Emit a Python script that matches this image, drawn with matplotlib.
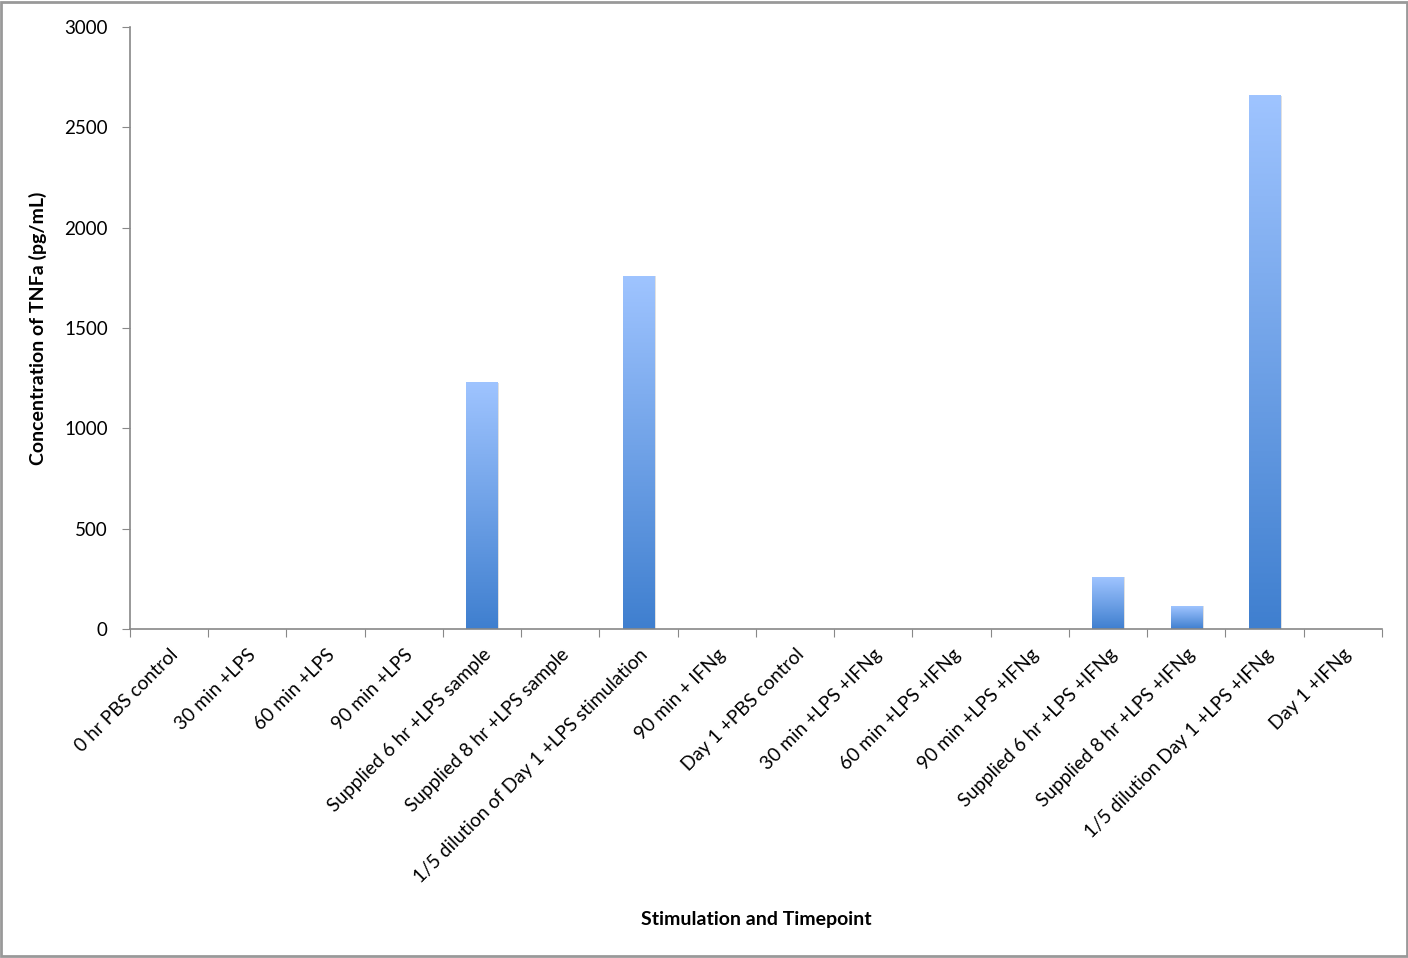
import matplotlib.pyplot as plt
import numpy as np
from matplotlib import patches
from matplotlib.colors import LinearSegmentedColormap

categories = ["0 hr PBS control", "30 min +LPS", "60 min +LPS", "90 min +LPS",
              "Supplied 6 hr +LPS sample", "Supplied 8 hr +LPS sample",
              "1/5 dilution of Day 1 +LPS stimulation", "90 min + IFNg",
              "Day 1 +PBS control", "30 min +LPS +IFNg", "60 min +LPS +IFNg",
              "90 min +LPS +IFNg", "Supplied 6 hr +LPS +IFNg",
              "Supplied 8 hr +LPS +IFNg", "1/5 dilution Day 1 +LPS +IFNg",
              "Day 1 +IFNg"]
tnf = [0, 0, 0, 0, 1228, 0, 1757, 0, 0, 0, 0, 0, 258, 113, 2658, 0]

plt.rcParams['font.family'] = ['Lato', 'DejaVu Sans']

fig = plt.figure(figsize=(14.08, 9.58), dpi=100)
ax = fig.add_axes([0.0923, 0.3434, 0.8892, 0.6284])

# gradient light blue (top) -> darker blue (bottom)
cmap = LinearSegmentedColormap.from_list('bluegrad', ['#3f7fcf', '#9fc4ff'])
grad = np.linspace(0, 1, 256).reshape(-1, 1)

x = np.arange(len(categories))
bar_width = 0.4
bars = ax.bar(x, tnf, bar_width, color='none', edgecolor='none')
for rect, val in zip(bars, tnf):
    if val <= 0:
        continue
    x0 = rect.get_x()
    w = rect.get_width()
    # soft shadow
    sh = patches.Rectangle((x0 + 0.02, 0), w, val, facecolor='#000000',
                           alpha=0.12, edgecolor='none', zorder=1)
    ax.add_patch(sh)
    ax.imshow(grad, cmap=cmap, aspect='auto', origin='lower',
              extent=(x0, x0 + w, 0, val), zorder=2)

ax.set_xlim(-0.5, len(categories) - 0.5)
ax.set_ylim(0, 3000)
ax.set_yticks(np.arange(0, 3001, 500))
ax.set_xticks(np.arange(-0.5, len(categories) - 0.4, 1))
ax.set_xticklabels([])
ax.set_xticks(x, minor=True)
ax.set_xticklabels(categories, minor=True, rotation=45, ha='right',
                   rotation_mode='anchor', fontsize=13.8)
ax.tick_params(axis='x', which='minor', length=0, pad=12)
ax.tick_params(axis='x', which='major', length=6, color='#888888', direction='out')
ax.tick_params(axis='y', length=6, color='#888888', labelsize=13.5, pad=10)

for side in ['top', 'right']:
    ax.spines[side].set_visible(False)
for side in ['left', 'bottom']:
    ax.spines[side].set_color('#888888')
    ax.spines[side].set_linewidth(1.2)

ax.set_ylabel('Concentration of TNFa (pg/mL)', fontsize=14, fontweight='bold', labelpad=12)
fig.text(0.537, 0.04, 'Stimulation and Timepoint', ha='center', va='center',
         fontsize=14, fontweight='bold')

# figure border
fig.patches.append(patches.Rectangle((0.001, 0.002), 0.998, 0.996, transform=fig.transFigure,
                                     fill=False, edgecolor='#999999', linewidth=2))

fig.savefig('out.png', dpi=100)
